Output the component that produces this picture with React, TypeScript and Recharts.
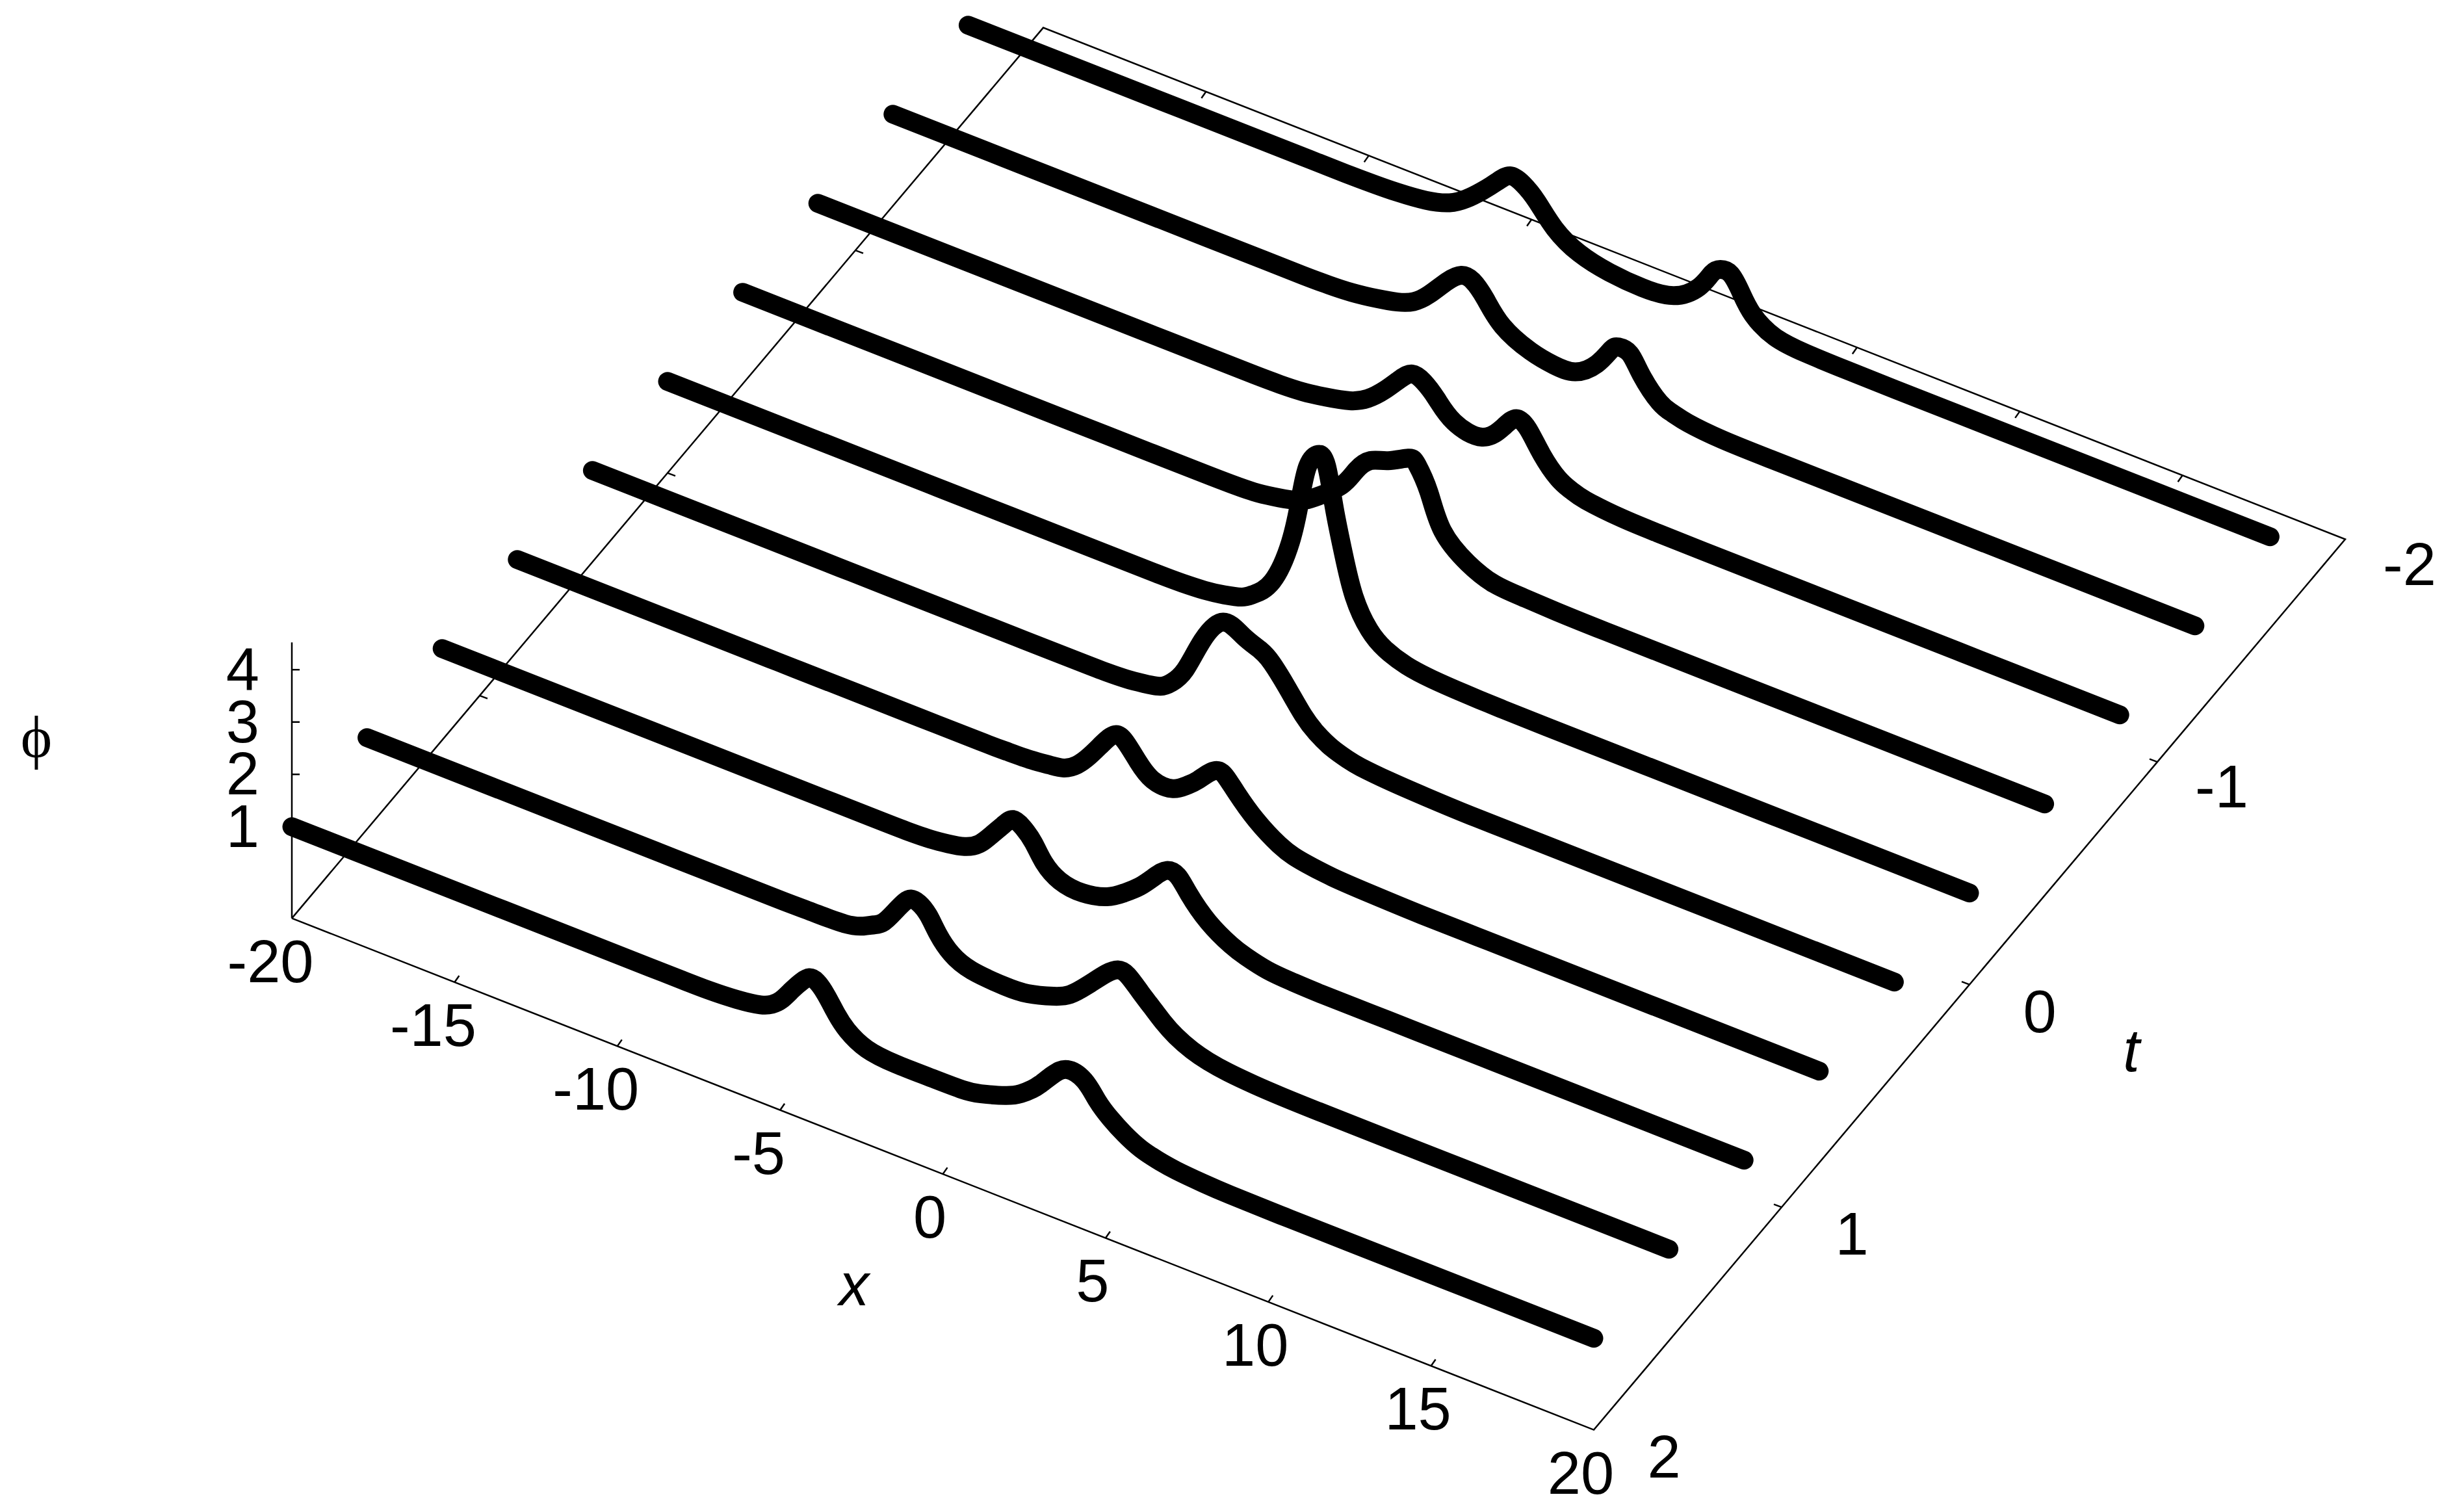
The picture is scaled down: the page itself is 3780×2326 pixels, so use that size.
import React from 'react';
import { ComposedChart, Line, Scatter, XAxis, YAxis } from 'recharts';

type Pt = [number, number];

// phi(x), front (t = 2) to back (t = -1.6)
const traceT20: Pt[] = [[-20,1],[-16.5,1],[-13.5,1],[-11,1],[-9,1],[-8,1],[-7.2,1.005],[-6.33,1.04],[-5.6,1.114],[-5.25,1.21],[-4.97,1.36],[-4.64,1.63],[-4.35,1.86],[-4.1,2],[-3.87,1.98],[-3.59,1.8],[-3.27,1.51],[-2.94,1.28],[-2.34,1.07],[-1.44,1],[-0.42,1],[0.59,1.01],[1.17,1.07],[1.92,1.22],[2.4,1.373],[2.75,1.546],[2.99,1.696],[3.38,1.973],[3.82,2.18],[4.35,2.1],[4.75,1.81],[5.15,1.57],[5.58,1.38],[6.08,1.22],[6.6,1.13],[7.18,1.07],[8,1.03],[8.84,1.01],[10.5,1],[12.5,1],[15.5,1],[20,1]];
const traceT16: Pt[] = [[-20,1],[-16,1],[-13,1],[-10.5,1],[-8.7,1],[-7.2,1],[-6.3,1.01],[-5.32,1.03],[-4.75,1.125],[-4.42,1.23],[-4.12,1.36],[-3.75,1.67],[-3.48,1.9],[-3.29,2],[-3.04,1.98],[-2.75,1.82],[-2.45,1.53],[-2.05,1.26],[-1.42,1.09],[-0.42,1.04],[0.3,1.07],[1.08,1.21],[1.6,1.37],[2.14,1.68],[2.71,2.04],[3.07,2.2],[3.37,2.17],[3.77,1.94],[4.1,1.75],[4.45,1.55],[4.85,1.37],[5.35,1.22],[5.85,1.13],[6.45,1.07],[7.25,1.03],[8.1,1.01],[9.7,1],[12.5,1],[15.5,1],[20,1]];
const traceT12: Pt[] = [[-20,1],[-15.5,1],[-12.5,1],[-10,1],[-8,1],[-6.4,1],[-5.6,1.005],[-5,1.025],[-4.45,1.07],[-3.95,1.14],[-3.5,1.3],[-3.1,1.58],[-2.75,1.85],[-2.46,2.02],[-2.15,1.94],[-1.83,1.73],[-1.51,1.43],[-1.02,1.2],[-0.32,1.14],[0.43,1.25],[0.95,1.45],[1.43,1.69],[1.9,2],[2.26,2.2],[2.6,2.18],[2.94,1.92],[3.54,1.53],[4.23,1.26],[4.69,1.15],[5.36,1.05],[6.1,1.015],[7,1],[8.5,1],[10,1],[12,1],[15,1],[20,1]];
const traceT08: Pt[] = [[-20,1],[-15,1],[-12,1],[-9.5,1],[-7.6,1],[-5.8,1],[-4.94,1.01],[-4.2,1.03],[-3.65,1.07],[-3.21,1.12],[-2.8,1.28],[-2.41,1.55],[-2.03,1.87],[-1.64,2.14],[-1.31,2.08],[-0.93,1.8],[-0.48,1.56],[0.12,1.54],[0.55,1.7],[0.92,1.9],[1.45,2.21],[1.8,2.15],[2.1,1.94],[2.7,1.57],[3.41,1.27],[3.85,1.16],[4.25,1.11],[5.05,1.05],[6.2,1.02],[7.8,1],[9.5,1],[11.5,1],[15,1],[20,1]];
const traceT04: Pt[] = [[-20,1],[-15,1],[-12,1],[-9.3,1],[-7,1],[-5,1],[-4.2,1.005],[-3.6,1.025],[-3.05,1.07],[-2.55,1.14],[-2.2,1.3],[-1.79,1.64],[-1.26,2.33],[-0.62,2.84],[0,2.72],[0.53,2.58],[0.88,2.42],[1.33,2.08],[1.84,1.66],[2.25,1.42],[2.72,1.25],[3.2,1.15],[3.6,1.1],[4.5,1.05],[5.6,1.02],[7,1],[9,1],[11.5,1],[15,1],[20,1]];
const traceT00: Pt[] = [[-20,1],[-15,1],[-12,1],[-9.5,1],[-7,1],[-5,1],[-4.2,1.01],[-3.5,1.04],[-2.9,1.1],[-2.36,1.19],[-2,1.33],[-1.42,1.72],[-0.86,2.61],[-0.56,3.51],[-0.33,4.19],[-0.01,4.49],[0.25,4.33],[0.49,3.57],[0.76,2.8],[1.09,2.05],[1.56,1.52],[2.05,1.27],[2.7,1.12],[3.5,1.05],[4.5,1.02],[5.6,1.005],[7,1],[10,1],[14,1],[20,1]];
const traceTm04: Pt[] = [[-20,1],[-15,1],[-12,1],[-9.8,1],[-7.5,1],[-5.8,1],[-5,1.005],[-4.3,1.025],[-3.7,1.08],[-3.11,1.16],[-2.7,1.26],[-2.31,1.43],[-1.6,1.81],[-1.15,2.21],[-0.71,2.5],[-0.17,2.63],[0.45,2.83],[0.72,2.77],[1.08,2.34],[1.5,1.7],[2.28,1.27],[3.1,1.07],[4,1.03],[5,1.01],[6.5,1],[8.5,1],[11,1],[15,1],[20,1]];
const traceTm08: Pt[] = [[-20,1],[-15.5,1],[-12.5,1],[-10,1],[-8,1],[-6.6,1],[-5.8,1.01],[-5.1,1.04],[-4.4,1.11],[-3.66,1.22],[-3.1,1.4],[-2.58,1.69],[-2.1,2.02],[-1.74,2.2],[-1.39,2.14],[-0.99,1.91],[-0.46,1.6],[0.41,1.52],[1.07,1.88],[1.46,2.13],[1.82,2.02],[2.24,1.64],[2.75,1.3],[3.15,1.17],[3.6,1.09],[4.7,1.02],[5.8,1.005],[7.2,1],[9,1],[11.5,1],[15,1],[20,1]];
const traceTm12: Pt[] = [[-20,1],[-16,1],[-13,1],[-10.5,1],[-8.6,1],[-7.4,1],[-6.6,1.01],[-5.9,1.04],[-5.15,1.11],[-4.5,1.2],[-4,1.33],[-3.53,1.58],[-2.97,1.97],[-2.54,2.19],[-2.19,2.17],[-1.8,1.92],[-1.27,1.53],[-0.41,1.26],[0.3,1.17],[0.96,1.2],[1.62,1.51],[2.06,1.89],[2.29,2],[2.64,1.96],[2.99,1.64],[3.55,1.25],[3.95,1.14],[4.42,1.07],[5.49,1.01],[7,1],[9,1],[12,1],[16,1],[20,1]];
const traceTm16: Pt[] = [[-20,1],[-16.5,1],[-13.5,1],[-11,1],[-9.5,1],[-8.4,1],[-7.5,1.01],[-6.81,1.03],[-5.94,1.09],[-5.21,1.22],[-4.7,1.42],[-4.21,1.69],[-3.75,1.98],[-3.35,2.19],[-2.95,2.13],[-2.52,1.9],[-1.98,1.52],[-1.22,1.23],[-0.29,1.09],[0.71,1.045],[1.68,1.13],[2.45,1.48],[2.85,1.84],[3.11,1.98],[3.43,1.97],[3.75,1.69],[4.11,1.36],[4.78,1.1],[5.74,1.02],[7,1.005],[8.5,1],[10.5,1],[13,1],[16,1],[20,1]];

const traces: { t: number; points: Pt[] }[] = [
  { t: 2, points: traceT20 }, { t: 1.6, points: traceT16 }, { t: 1.2, points: traceT12 },
  { t: 0.8, points: traceT08 }, { t: 0.4, points: traceT04 }, { t: 0, points: traceT00 },
  { t: -0.4, points: traceTm04 }, { t: -0.8, points: traceTm08 }, { t: -1.2, points: traceTm12 },
  { t: -1.6, points: traceTm16 },
];

const xTicks = [-20, -15, -10, -5, 0, 5, 10, 15, 20];
const tTicks = [-2, -1, 0, 1, 2];
const zTicks = [1, 2, 3, 4];
const xRange = [-20, 20];
const tRange = [-2, 2];
const zRange = [-0.75, 4.52];

// Oblique view of the (x, t, phi) box onto the page
const W = 3780, H = 2326;
const project = (x: number, t: number, z: number) => ({
  sx: 449 + 50.075 * (x + 20) + 289 * (2 - t),
  sy: 1412.6 + 19.675 * (x + 20) - 342.5 * (2 - t) - 80.5 * (z + 0.75),
});

const LINE = '#000';
const zb = zRange[0];
const frame = [
  [project(xRange[0], tRange[1], zb), project(xRange[1], tRange[1], zb), project(xRange[1], tRange[0], zb), project(xRange[0], tRange[0], zb), project(xRange[0], tRange[1], zb)],
  [project(xRange[0], tRange[1], zb), project(xRange[0], tRange[1], zRange[1])],
];
const shift = (p: { sx: number; sy: number }, dx: number, dy: number) => ({ sx: p.sx + dx, sy: p.sy + dy });
const tickSegs = [
  ...xTicks.slice(1, -1).flatMap((x) => {
    const a = project(x, tRange[1], zb), b = project(x, tRange[0], zb);
    return [[a, shift(a, 7, -10)], [b, shift(b, -7, 10)]];
  }),
  ...tTicks.slice(1, -1).flatMap((t) => {
    const a = project(xRange[0], t, zb), b = project(xRange[1], t, zb);
    return [[a, shift(a, 12, 4.5)], [b, shift(b, -12, -4.5)]];
  }),
  ...zTicks.map((z) => {
    const a = project(xRange[0], tRange[1], z);
    return [a, shift(a, 12, 0)];
  }),
];

type Lab = { sx: number; sy: number; text: string; anchor: string; italic?: boolean; serif?: boolean };
const labels: Lab[] = [
  ...xTicks.map((x) => ({ ...shift(project(x, tRange[1], zb), x < 0 ? -33 : -20, 65), text: String(x), anchor: 'middle' })),
  ...tTicks.map((t) => ({ ...shift(project(xRange[1], t, zb), t < 0 ? 99 : 108, t < 0 ? 37 : 40), text: String(t), anchor: 'middle' })),
  ...zTicks.map((z) => ({ ...shift(project(xRange[0], tRange[1], z), -50, -2), text: String(z), anchor: 'end' })),
  { sx: 1314, sy: 1975, text: 'x', anchor: 'middle', italic: true },
  { sx: 3279, sy: 1615, text: 't', anchor: 'middle', italic: true },
  { sx: 56, sy: 1132, text: '\u03D5', anchor: 'middle', serif: true },
];

const FS = 92;
const LabelShape = (props: any) => {
  const p = props.payload as Lab;
  return (
    <text
      x={props.cx}
      y={props.cy + 0.358 * FS}
      textAnchor={p.anchor}
      fontFamily={p.serif ? '"Liberation Serif", serif' : '"Liberation Sans", sans-serif'}
      fontStyle={p.italic ? 'italic' : 'normal'}
      fontSize={FS}
      fill={LINE}
    >
      {p.text}
    </text>
  );
};

export default function App() {
  return (
    <div style={{ position: 'absolute', left: 0, top: 0, width: W, height: H, background: '#fff' }}>
      <ComposedChart width={W} height={H} margin={{ top: 0, right: 0, bottom: 0, left: 0 }}>
        <XAxis type="number" dataKey="sx" domain={[0, W]} hide allowDataOverflow />
        <YAxis type="number" dataKey="sy" domain={[0, H]} reversed hide allowDataOverflow />
        {frame.map((seg, i) => (
          <Line key={'f' + i} data={seg} dataKey="sy" type="linear" stroke={LINE} strokeWidth={2.5} dot={false} activeDot={false} isAnimationActive={false} />
        ))}
        {tickSegs.map((seg, i) => (
          <Line key={'k' + i} data={seg} dataKey="sy" type="linear" stroke={LINE} strokeWidth={2.5} dot={false} activeDot={false} isAnimationActive={false} />
        ))}
        {traces.map((tr) => (
          <Line
            key={'t' + tr.t}
            data={tr.points.map(([x, phi]) => project(x, tr.t, phi))}
            dataKey="sy"
            type="natural"
            stroke={LINE}
            strokeWidth={29}
            strokeLinecap="round"
            strokeLinejoin="round"
            dot={false}
            activeDot={false}
            isAnimationActive={false}
          />
        ))}
        <Scatter data={labels} dataKey="sy" shape={LabelShape} isAnimationActive={false} />
      </ComposedChart>
    </div>
  );
}
